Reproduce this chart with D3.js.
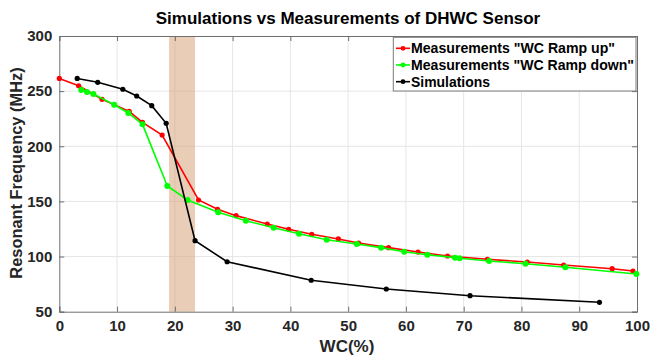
<!DOCTYPE html>
<html><head><meta charset="utf-8">
<script src="https://cdn.jsdelivr.net/npm/d3@7"></script>
<style>body{margin:0;background:#fff}svg{display:block}</style>
</head><body>
<svg id="c" width="652" height="355"></svg>
<script>
const title = "Simulations vs Measurements of DHWC Sensor";
const xLabel = "WC(%)";
const yLabel = "Resonant Frequency (MHz)";
const xTicks = [0,10,20,30,40,50,60,70,80,90,100];
const yTicks = [50,100,150,200,250,300];
const band = [19, 23.5];

const upX = [0,3.35,7.4,12.1,14.4,17.8,24.1,27.4,30.6,36,39.7,43.7,48.3,51.8,57,62.1,67.2,74.1,81,87.3,95.7,99.3];
const upY = [261.5,254.9,242.6,231.7,221.7,210.2,151.3,142.9,137.1,129.5,124.7,120.2,116,112.3,108.1,104.1,100.5,97.5,95,92.3,89,86.9];

const downX = [3.8,4.8,5.9,9.5,11.95,14.4,18.7,22.2,27.5,32.3,37.1,41.5,46.3,51.5,55.7,59.7,63.7,68.5,69.3,74.4,80.7,87.6,99.9];
const downY = [251,249.2,247.4,237.7,230.2,219.9,164,151.3,140.1,132.5,126.2,120.7,115.3,111.4,108.1,104.4,101.7,99,98.4,96,93.5,90.3,84.2];

const simX = [3.1,6.65,11,13.4,16,18.5,23.5,29.05,43.6,56.6,71.1,93.5];
const simY = [261.5,258,251.7,245.6,236.8,220.8,114.4,95.3,78.5,70.6,64.5,58.5];

const seriesNames = ['Measurements "WC Ramp up"','Measurements "WC Ramp down"','Simulations'];
const seriesColors = ["#ff0000","#00ff00","#000000"];

const svg = d3.select("#c");
const m = {l:59.3, r:637, t:36, b:311.7};
const x = d3.scaleLinear().domain([0,100]).range([m.l,m.r]);
const y = d3.scaleLinear().domain([50,300]).range([m.b,m.t]);
const font = "'Liberation Sans', Arial, sans-serif";

// grid
svg.append("g").selectAll("line").data(xTicks.slice(1,-1)).join("line")
  .attr("x1",d=>x(d)).attr("x2",d=>x(d)).attr("y1",m.t).attr("y2",m.b)
  .attr("stroke","#e6e6e6").attr("stroke-width",1);
svg.append("g").selectAll("line").data(yTicks.slice(1,-1)).join("line")
  .attr("y1",d=>y(d)).attr("y2",d=>y(d)).attr("x1",m.l).attr("x2",m.r)
  .attr("stroke","#e6e6e6").attr("stroke-width",1);

// band
svg.append("rect").attr("x",x(band[0])).attr("width",x(band[1])-x(band[0]))
  .attr("y",m.t).attr("height",m.b-m.t).attr("fill","#d9a47c").attr("opacity",0.55);

// axes
const ax = svg.append("g").attr("transform",`translate(0,${m.b})`)
  .call(d3.axisBottom(x).tickValues(xTicks).tickSize(-5).tickPadding(9));
const ay = svg.append("g").attr("transform",`translate(${m.l},0)`)
  .call(d3.axisLeft(y).tickValues(yTicks).tickSize(-5).tickPadding(7));
const axT = svg.append("g").attr("transform",`translate(0,${m.t})`)
  .call(d3.axisTop(x).tickValues(xTicks).tickSize(-5).tickFormat(""));
const ayR = svg.append("g").attr("transform",`translate(${m.r},0)`)
  .call(d3.axisRight(y).tickValues(yTicks).tickSize(-5).tickFormat(""));
[ax,ay,axT,ayR].forEach(g=>{
  g.select(".domain").attr("stroke","#6e6e6e").attr("stroke-width",1);
  g.selectAll(".tick line").attr("stroke","#6e6e6e");
  g.selectAll("text").attr("font-family",font).attr("font-size",15)
    .attr("font-weight","bold").attr("fill","#262626");
});

// lines
const line = d3.line().x(d=>x(d[0])).y(d=>y(d[1]));
const series = [
  {xs:upX, ys:upY, c:seriesColors[0], r:2.6},
  {xs:downX, ys:downY, c:seriesColors[1], r:3},
  {xs:simX, ys:simY, c:seriesColors[2], r:2.6}
];
series.forEach(s=>{
  const pts = s.xs.map((v,i)=>[v,s.ys[i]]);
  svg.append("path").datum(pts).attr("d",line).attr("fill","none")
    .attr("stroke",s.c).attr("stroke-width",1.6);
  svg.append("g").selectAll("circle").data(pts).join("circle")
    .attr("cx",d=>x(d[0])).attr("cy",d=>y(d[1])).attr("r",s.r).attr("fill",s.c);
});

// title & labels
svg.append("text").attr("x",348).attr("y",24).attr("text-anchor","middle")
  .attr("font-family",font).attr("font-size",17).attr("font-weight","bold").attr("fill","#000").text(title);
svg.append("text").attr("x",347).attr("y",352).attr("text-anchor","middle")
  .attr("font-family",font).attr("font-size",17).attr("font-weight","bold").attr("fill","#262626").text(xLabel);
svg.append("text").attr("transform",`translate(22,173) rotate(-90)`).attr("text-anchor","middle")
  .attr("font-family",font).attr("font-size",16.4).attr("font-weight","bold").attr("fill","#262626").text(yLabel);

// legend
const legendLens = [204, 223, 79];
const lg = svg.append("g");
lg.append("rect").attr("x",393.3).attr("y",37.3).attr("width",636-393.3).attr("height",91-37.3)
  .attr("fill","#fff").attr("stroke","#7a7a7a").attr("stroke-width",1);
seriesNames.forEach((n,i)=>{
  const yy = 48.3 + i*16.7;
  lg.append("line").attr("x1",396).attr("x2",410).attr("y1",yy).attr("y2",yy)
    .attr("stroke",seriesColors[i]).attr("stroke-width",1.6);
  lg.append("circle").attr("cx",403).attr("cy",yy).attr("r",2.4).attr("fill",seriesColors[i]);
  lg.append("text").attr("x",411).attr("y",yy+5).attr("font-family",font).attr("font-size",14.6)
    .attr("font-weight","bold").attr("fill","#000")
    .attr("textLength",legendLens[i]).attr("lengthAdjust","spacingAndGlyphs").text(n);
});
</script>
</body></html>
